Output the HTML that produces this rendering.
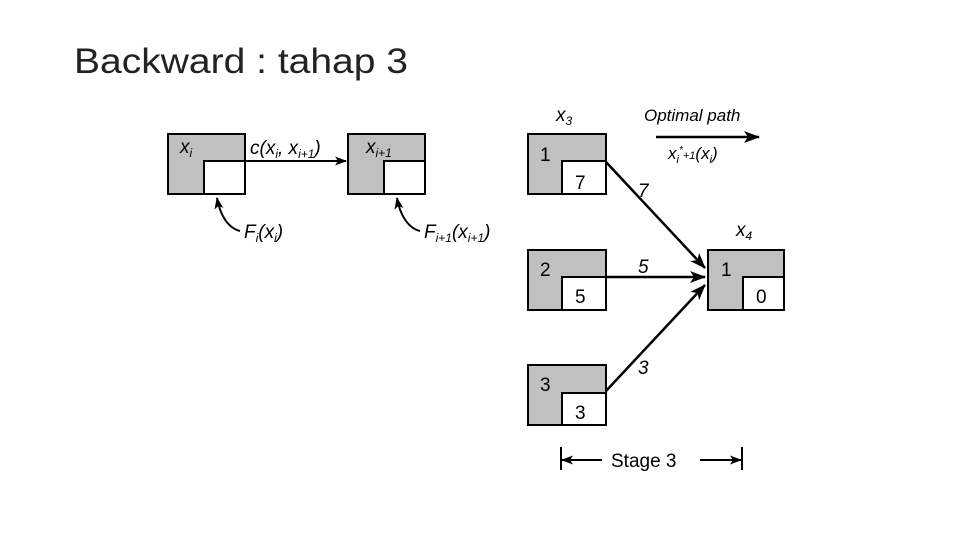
<!DOCTYPE html>
<html><head><meta charset="utf-8"><style>html,body{margin:0;padding:0;background:#fff}svg{display:block}</style></head><body>
<svg width="960" height="540" viewBox="0 0 960 540" xmlns="http://www.w3.org/2000/svg" font-family="Liberation Sans, sans-serif">
<defs><marker id="ah" markerWidth="12" markerHeight="9" refX="11" refY="4.5" orient="auto" markerUnits="userSpaceOnUse"><path d="M0,0 L12,4.5 L0,9 L3,4.5 Z" fill="#000"/></marker>
<marker id="ah2" markerWidth="16" markerHeight="12" refX="15" refY="6" orient="auto" markerUnits="userSpaceOnUse"><path d="M0,0 L16,6 L0,12 L4,6 Z" fill="#000"/></marker></defs>
<text x="74" y="73" font-size="35" textLength="334" lengthAdjust="spacingAndGlyphs" fill="#222">Backward : tahap 3</text>
<g stroke="#000" stroke-width="2">
<rect x="168" y="134" width="77" height="60" fill="#c0c0c0"/><rect x="204" y="161" width="41" height="33" fill="#fff"/>
<rect x="348" y="134" width="77" height="60" fill="#c0c0c0"/><rect x="384" y="161" width="41" height="33" fill="#fff"/>
<rect x="528" y="134" width="78" height="60" fill="#c0c0c0"/><rect x="562" y="161" width="44" height="33" fill="#fff"/>
<rect x="528" y="250" width="78" height="60" fill="#c0c0c0"/><rect x="562" y="277" width="44" height="33" fill="#fff"/>
<rect x="528" y="365" width="78" height="60" fill="#c0c0c0"/><rect x="562" y="393" width="44" height="32" fill="#fff"/>
<rect x="708" y="250" width="76" height="60" fill="#c0c0c0"/><rect x="743" y="277" width="41" height="33" fill="#fff"/>
</g>
<g stroke="#000" stroke-width="2" fill="none">
<line x1="245" y1="161" x2="346" y2="161" marker-end="url(#ah)"/>
<path d="M240,231 C228,228 220,215 217,198" marker-end="url(#ah)"/>
<path d="M420,231 C408,228 400,215 397,198" marker-end="url(#ah)"/>
<line x1="656" y1="137" x2="759" y2="137" stroke-width="2.5" marker-end="url(#ah2)"/>
<line x1="606" y1="162" x2="705" y2="268" stroke-width="2.5" marker-end="url(#ah2)"/>
<line x1="606" y1="277" x2="705" y2="277" stroke-width="2.5" marker-end="url(#ah2)"/>
<line x1="606" y1="391" x2="705" y2="285" stroke-width="2.5" marker-end="url(#ah2)"/>
<line x1="561" y1="447" x2="561" y2="470"/><line x1="742" y1="447" x2="742" y2="470"/>
<line x1="602" y1="460" x2="562" y2="460" marker-end="url(#ah)"/>
<line x1="700" y1="460" x2="741" y2="460" marker-end="url(#ah)"/>
</g>
<g font-style="italic" font-size="19" fill="#000">
<text x="180" y="153">x<tspan font-size="12" dy="4">i</tspan></text>
<text x="250" y="154">c(x<tspan font-size="12" dy="4">i</tspan><tspan dy="-4">, x</tspan><tspan font-size="12" dy="4">i+1</tspan><tspan dy="-4">)</tspan></text>
<text x="366" y="153">x<tspan font-size="12" dy="4">i+1</tspan></text>
<text x="244" y="238">F<tspan font-size="12" dy="4">i</tspan><tspan dy="-4">(x</tspan><tspan font-size="12" dy="4">i</tspan><tspan dy="-4">)</tspan></text>
<text x="424" y="238">F<tspan font-size="12" dy="4">i+1</tspan><tspan dy="-4">(x</tspan><tspan font-size="12" dy="4">i+1</tspan><tspan dy="-4">)</tspan></text>
<text x="556" y="121">x<tspan font-size="12" dy="4">3</tspan></text>
<text x="644" y="121" font-size="17">Optimal path</text>
<text x="668" y="159" font-size="17">x<tspan font-size="11" dy="4">i</tspan><tspan font-size="10" dy="-10">*</tspan><tspan font-size="11" dy="6">+1</tspan><tspan dy="0">(x</tspan><tspan font-size="11" dy="4">i</tspan><tspan dy="-4">)</tspan></text>
<text x="736" y="236">x<tspan font-size="12" dy="4">4</tspan></text>
<text x="638" y="197">7</text>
<text x="638" y="273">5</text>
<text x="638" y="374">3</text>
</g>
<g font-size="19" fill="#000">
<text x="540" y="161">1</text><text x="575" y="189">7</text>
<text x="540" y="276">2</text><text x="575" y="303">5</text>
<text x="540" y="391">3</text><text x="575" y="419">3</text>
<text x="721" y="276">1</text><text x="756" y="303">0</text>
<text x="611" y="467">Stage 3</text>
</g>
</svg>
</body></html>
